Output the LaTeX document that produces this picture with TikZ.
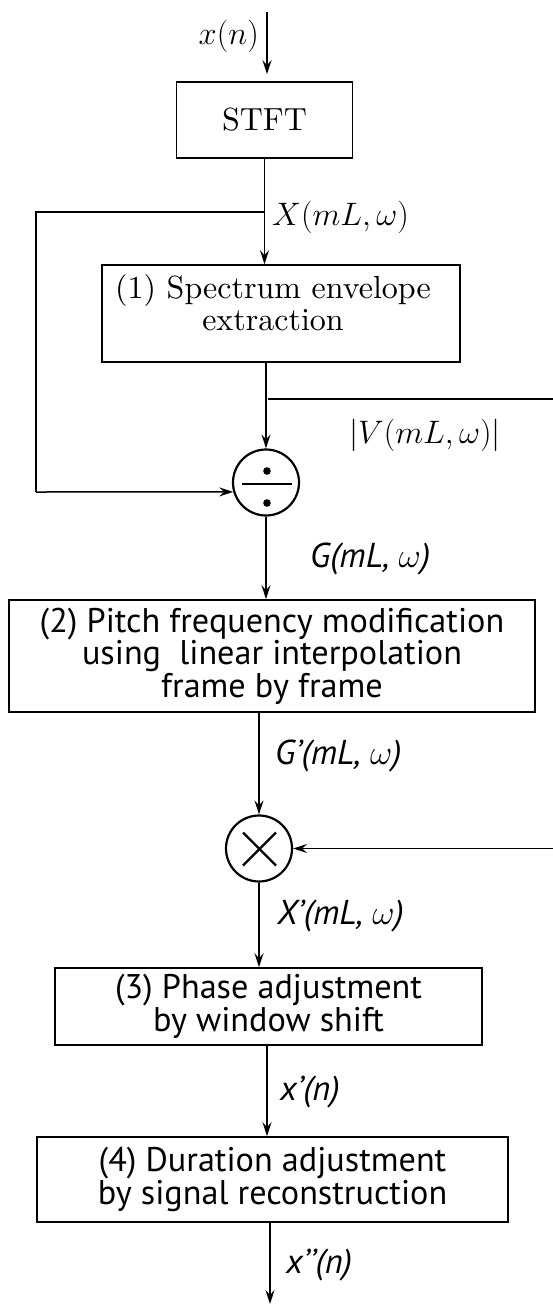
\documentclass[tikz,border=0pt]{standalone}
\usepackage{fix-cm}
\usepackage{fontspec}
\newfontfamily\sansf{PT Sans}
\newfontfamily\cmten{lmroman10-regular.otf}
\usetikzlibrary{arrows.meta,calc}
\begin{document}
\begin{tikzpicture}[x=1pt,y=-1pt,
  box/.style={draw, line width=1.6pt, inner sep=0pt, align=center},
  btext/.style={inner sep=0pt, align=center},
  arr/.style={line width=1.5pt, -{Stealth[length=14pt,width=9pt,inset=5pt]}},
  ln/.style={line width=1.5pt},
  op/.style={draw, circle, line width=2.2pt, minimum size=66pt, inner sep=0pt},
  serift/.style={font=\cmten\fontsize{32}{32}\selectfont},
  sanst/.style={font=\sansf\fontsize{34.2}{31}\selectfont},
  slab/.style={inner sep=0pt, font=\fontsize{32.5}{32}\selectfont},
  ilab/.style={inner sep=0pt, font=\sansf\itshape\fontsize{34.5}{32}\selectfont}]
\useasboundingbox (0,0) rectangle (553,1306);

% blocks
\node[box, serift, minimum width=176pt, minimum height=76pt] (stft) at (264.5,120) {STFT};
\node[box, minimum width=358pt, minimum height=97pt] (env) at (281,313.5) {};
\node[btext, serift] (envt) at (273,302.5) {(1) Spectrum envelope\\extraction};
\node[op] (div) at (266,482.5) {};
\node[box, sanst, minimum width=526pt, minimum height=112pt] (pitch) at (272,656) {(2) Pitch frequency modification\\using\ \ linear interpolation\\frame by frame};
\node[op] (mul) at (259,848.5) {};
\node[box, sanst, minimum width=427pt, minimum height=77pt] (phase) at (268.5,1006.5) {(3) Phase adjustment\\by window shift};
\node[box, sanst, minimum width=471pt, minimum height=85pt] (dur) at (272.5,1179.5) {(4) Duration adjustment\\by signal reconstruction};

% operator symbols
\fill ($(div.center)+(1,-11.5)$) circle (3.8pt);
\fill ($(div.center)+(1,20.5)$) circle (3.8pt);
\draw[line width=2.4pt] ($(div.center)+(-24,1.5)$) -- ($(div.center)+(26,1.5)$);
\draw[line width=2.4pt] ($(mul.center)+(-16,-16)$) -- ($(mul.center)+(17,17)$);
\draw[line width=2.4pt] ($(mul.center)+(-16,17)$) -- ($(mul.center)+(17,-16)$);

% coordinates
\coordinate (in) at (267,12);
\coordinate (bl) at (264.5,212);
\coordinate (lc1) at (36,212);
\coordinate (lc2) at (36,492);
\coordinate (rb) at (268,399);
\coordinate (re1) at (553,399);
\coordinate (re2) at (553,848.5);
\coordinate (out) at (270,1306);

% connectors
\draw[arr, shorten >=7pt] (in) -- (in |- stft.north);
\draw[arr] (stft.south) -- (stft.south |- env.north);
\draw[ln] (bl) -- (lc1) -- (lc2);
\draw[arr] (lc2) -- (div.196);
\draw[arr] (env.south -| div.north) -- (div.north);
\draw[ln] (rb) -- (re1);
\draw[arr] (div.south) -- (div.south |- pitch.north);
\draw[arr] (pitch.south -| mul.north) -- (mul.north);
\draw[arr] (re2) -- (mul.east);
\draw[arr] (mul.south) -- (mul.south |- phase.north);
\draw[arr] (phase.south -| in) -- (dur.north -| in);
\draw[arr, shorten >=2pt] (dur.south -| out) -- (out);

% labels
\node[slab, anchor=east] (lx) at (259,36) {$x(n)$};
\node[slab, anchor=west] (lX) at (272,217) {$X(mL,\omega)$};
\node[slab, anchor=west] (lV) at (349,435) {$|V(mL,\omega)|$};
\node[ilab, anchor=west] (lG) at (310,559) {G(mL, $\omega$)};
\node[ilab, anchor=west] (lGp) at (275,756) {G’(mL, $\omega$)};
\node[ilab, anchor=west] (lXp) at (277,916) {X’(mL, $\omega$)};
\node[ilab, anchor=west] (lxp) at (280,1092) {x’(n)};
\node[ilab, anchor=west] (lxpp) at (286,1265) {x’’(n)};
\end{tikzpicture}
\end{document}
